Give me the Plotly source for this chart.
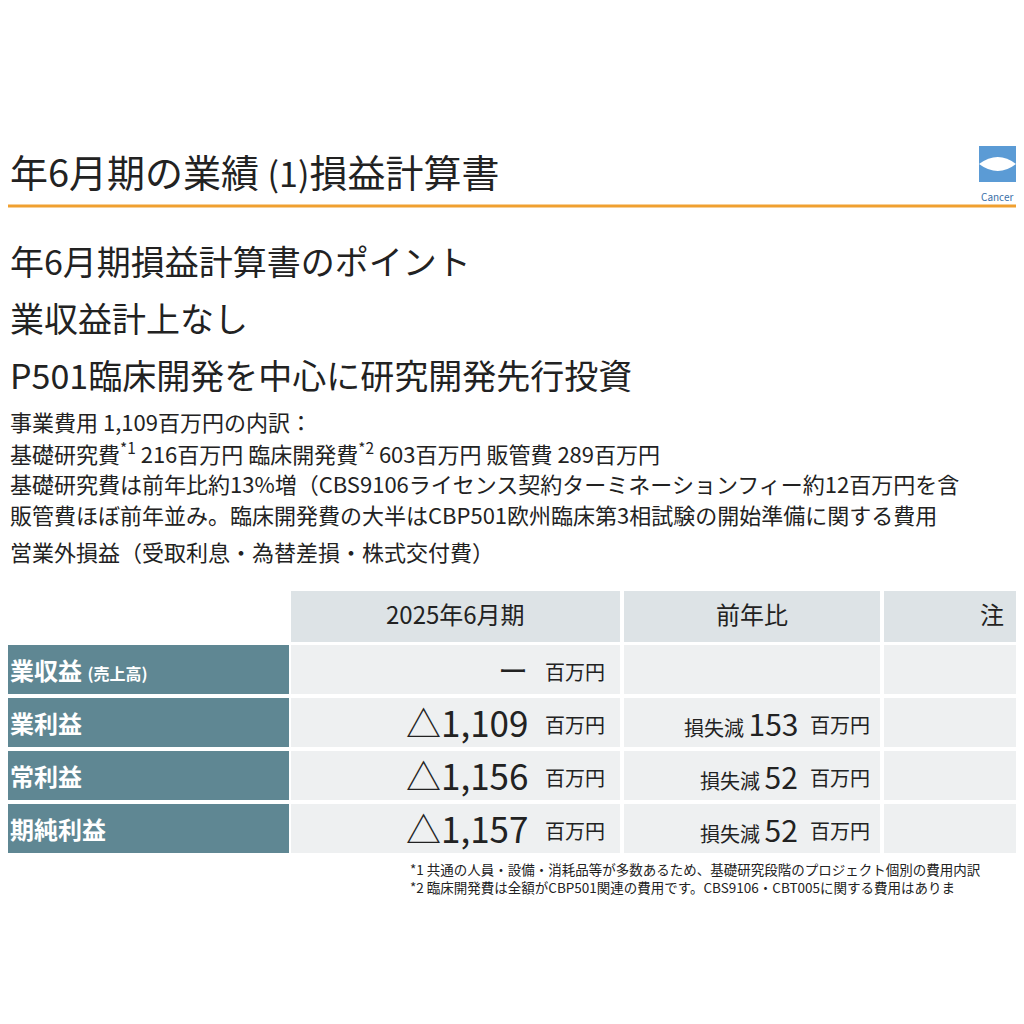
import plotly.graph_objects as go

FONT = "Noto Sans CJK JP"

title = "年6月期の業績 <span style='font-size:34px'>(1)</span>損益計算書"
bullets = ["年6月期損益計算書のポイント", "業収益計上なし", "P501臨床開発を中心に研究開発先行投資"]
details = [
    "事業費用 1,109百万円の内訳：",
    "基礎研究費<sup>*1</sup> 216百万円 臨床開発費<sup>*2</sup> 603百万円 販管費 289百万円",
    "基礎研究費は前年比約13%増（CBS9106ライセンス契約ターミネーションフィー約12百万円を含",
    "販管費ほぼ前年並み。臨床開発費の大半はCBP501欧州臨床第3相試験の開始準備に関する費用",
    "営業外損益（受取利息・為替差損・株式交付費）",
]
headers = ["2025年6月期", "前年比", "注"]
row_labels = ["業収益 <span style='font-size:16px'>(売上高)</span>", "業利益", "常利益", "期純利益"]
values = ["ー", "△1,109", "△1,156", "△1,157"]
yoy_prefix = ["", "損失減", "損失減", "損失減"]
yoy_values = ["", "153", "52", "52"]
footnotes = [
    "*1 共通の人員・設備・消耗品等が多数あるため、基礎研究段階のプロジェクト個別の費用内訳",
    "*2 臨床開発費は全額がCBP501関連の費用です。CBS9106・CBT005に関する費用はありま",
]

fig = go.Figure()
shapes, ann = [], []
L = 8  # page body margin; data coords equal page pixels

def text(x, y, s, size, color="#222", anchor="left", weight=None):
    ann.append(dict(x=x, y=y, text=s, showarrow=False, xanchor=anchor, yanchor="middle",
                    font=dict(family=FONT, size=size, color=color, weight=weight)))

text(L, 170, title, 38)
shapes.append(dict(type="line", x0=0, x1=1032, y0=206, y1=206, line=dict(color="#f0a030", width=3)))
# logo
shapes.append(dict(type="rect", x0=979, x1=1016, y0=146, y1=182, fillcolor="#5b9bd5", line_width=0))
shapes.append(dict(type="path", path="M 979 164 Q 998 150 1016 164 Q 998 178 979 164 Z", fillcolor="white", line_width=0))
text(979, 196, "Cancer", 10, "#3a6fa8")

for i, b in enumerate(bullets):
    text(L, 260 + i * 57, b, 34)
for i, d in enumerate(details):
    text(L, 421 + i * 31 + (6 if i == 4 else 0), d, 22)

# table
cols = [(291, 620), (624, 880), (884, 1032)]
shapes.append(dict(type="rect", x0=291, x1=1032, y0=591, y1=642, fillcolor="#dde3e6", line_width=0))
for (x0, x1), h in zip(cols, headers):
    text((x0 + x1) / 2 if x1 < 1000 else 992, 613, h, 24, anchor="center")
for (x0, x1) in cols[1:]:
    shapes.append(dict(type="line", x0=x0 - 2, x1=x0 - 2, y0=591, y1=642, line=dict(color="white", width=4)))

for i, (lab, v, p, yv) in enumerate(zip(row_labels, values, yoy_prefix, yoy_values)):
    y0 = 645 + i * 53
    y1 = y0 + 49
    ym = (y0 + y1) / 2
    shapes.append(dict(type="rect", x0=0, x1=289, y0=y0, y1=y1, fillcolor="#5f8793", line_width=0))
    for (x0, x1) in cols:
        shapes.append(dict(type="rect", x0=x0, x1=x1, y0=y0, y1=y1, fillcolor="#eef0f1", line_width=0))
    text(L, ym, lab, 24, "white", weight="bold")
    text(530, ym - 1, v, 35 if i else 30, anchor="right")
    text(543, ym + 2, "百万円", 20)
    if yv:
        text(800, ym, f"<span style='font-size:20px'>{p} </span>{yv}", 30, anchor="right")
        text(840, ym + 2, "百万円", 20, anchor="center")

for i, f in enumerate(footnotes):
    text(408, 869 + i * 18, f, 13.5)

fig.update_layout(width=1024, height=1024, margin=dict(l=0, r=0, t=0, b=0),
                  plot_bgcolor="white", paper_bgcolor="white", shapes=shapes, annotations=ann,
                  xaxis=dict(range=[L, 1024 + L], visible=False),
                  yaxis=dict(range=[1024 + L, L], visible=False), showlegend=False)
fig.write_html("out.html")
